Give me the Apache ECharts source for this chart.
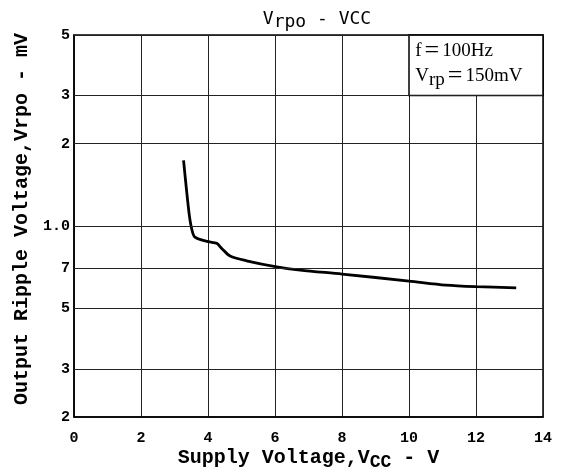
<!DOCTYPE html>
<html>
<head>
<meta charset="utf-8">
<script src="https://cdn.jsdelivr.net/npm/echarts@6/dist/echarts.min.js"></script>
<style>
  html, body { margin: 0; padding: 0; background: #fff; }
  #chart { width: 565px; height: 473px; }
</style>
</head>
<body>
<div id="chart"></div>
<script>
// supply voltage (V) and output ripple (mV)
var vcc    = [3.27, 3.36, 3.44, 3.51, 3.61, 4.01, 4.26, 4.41, 4.66, 5.15, 6.05, 6.75, 8.0, 10.0, 11.1, 12.0, 13.2];
var ripple = [1.74, 1.35, 1.10, 0.98, 0.91, 0.876, 0.864, 0.828, 0.776, 0.746, 0.709, 0.69, 0.667, 0.629, 0.608, 0.600, 0.594];

// y grid / tick values and their printed labels
var yTicks  = [0.2, 0.3, 0.5, 0.7, 1, 2, 3, 5];
var yLabels = ['2', '3', '5', '7', '1.0', '2', '3', '5'];

var chart = echarts.init(document.getElementById('chart'));
var mono = '"Liberation Mono", "DejaVu Sans Mono", monospace';
var serif = '"Liberation Serif", serif';

chart.setOption({
  animation: false,
  title: {
    text: 'V{s|rpo} - VCC',
    left: 312,
    top: 2,
    textAlign: 'center',
    textStyle: {
      fontFamily: '"DejaVu Sans Mono", monospace',
      fontWeight: 'normal',
      fontSize: 18,
      color: '#000',
      rich: { s: { fontFamily: '"DejaVu Sans Mono", monospace', fontSize: 18, padding: [6, 0, 0, 0], color: '#000' } }
    }
  },
  grid: {
    left: 74, right: 22, top: 35, bottom: 56,
    outerBoundsMode: 'none',
    show: true, borderColor: '#000', borderWidth: 1.5
  },
  xAxis: {
    type: 'value',
    min: 0, max: 14, interval: 2,
    name: 'Supply Voltage,V{s|CC} - V',
    nameLocation: 'middle',
    nameGap: 28,
    nameMoveOverlap: false,
    nameTextStyle: {
      fontFamily: mono, fontWeight: 'bold', fontSize: 20, color: '#000',
      rich: { s: { fontFamily: mono, fontWeight: 'bold', fontSize: 18, padding: [8, 0, 0, 0], color: '#000' } }
    },
    axisLine: { lineStyle: { color: '#000', width: 1.5 } },
    axisTick: { show: false },
    axisLabel: { fontFamily: mono, fontWeight: 'bold', fontSize: 15, color: '#000', margin: 14 },
    splitLine: { lineStyle: { color: '#222', width: 1 } }
  },
  yAxis: {
    type: 'log',
    logBase: 10,
    min: 0.2, max: 5,
    name: 'Output Ripple Voltage,Vrpo - mV',
    nameLocation: 'middle',
    nameGap: 42,
    nameMoveOverlap: false,
    nameTextStyle: { fontFamily: mono, fontWeight: 'bold', fontSize: 20, color: '#000', padding: [0, 0, 0, 14] },
    axisLine: { lineStyle: { color: '#000', width: 1.5 } },
    axisTick: { show: false, customValues: yTicks },
    axisLabel: {
      customValues: yTicks,
      fontFamily: mono, fontWeight: 'bold', fontSize: 15, color: '#000', margin: 4,
      formatter: function (v) {
        var i = yTicks.findIndex(function (t) { return Math.abs(t - v) < 1e-6; });
        return i >= 0 ? yLabels[i] : '';
      }
    },
    splitLine: { show: false }
  },
  series: [{
    type: 'line',
    data: vcc.map(function (x, i) { return [x, ripple[i]]; }),
    smooth: 0.3,
    showSymbol: false,
    lineStyle: { color: '#000', width: 2.8 },
    markLine: {
      silent: true,
      symbol: 'none',
      label: { show: false },
      lineStyle: { color: '#222', width: 1, type: 'solid' },
      data: yTicks.slice(1).map(function (t) { return { yAxis: t }; })
    },
    markArea: {
      silent: true,
      itemStyle: { color: '#fff', borderColor: '#000', borderWidth: 1.5 },
      label: {
        show: true,
        position: 'insideTopLeft',
        offset: [2, -1],
        formatter: 'f{e|=}100Hz\nV{s|rp}{e|=}150mV',
        fontFamily: serif,
        fontSize: 19,
        lineHeight: 25,
        color: '#000',
        rich: {
          s: { fontFamily: serif, fontSize: 19, padding: [9, 0, 0, 0], color: '#000' },
          e: { fontFamily: serif, fontSize: 26, padding: [0, 3, 0, 3], color: '#000' }
        }
      },
      data: [[{ xAxis: 10, yAxis: 3 }, { xAxis: 14, yAxis: 5 }]]
    }
  }]
});
</script>
</body>
</html>
